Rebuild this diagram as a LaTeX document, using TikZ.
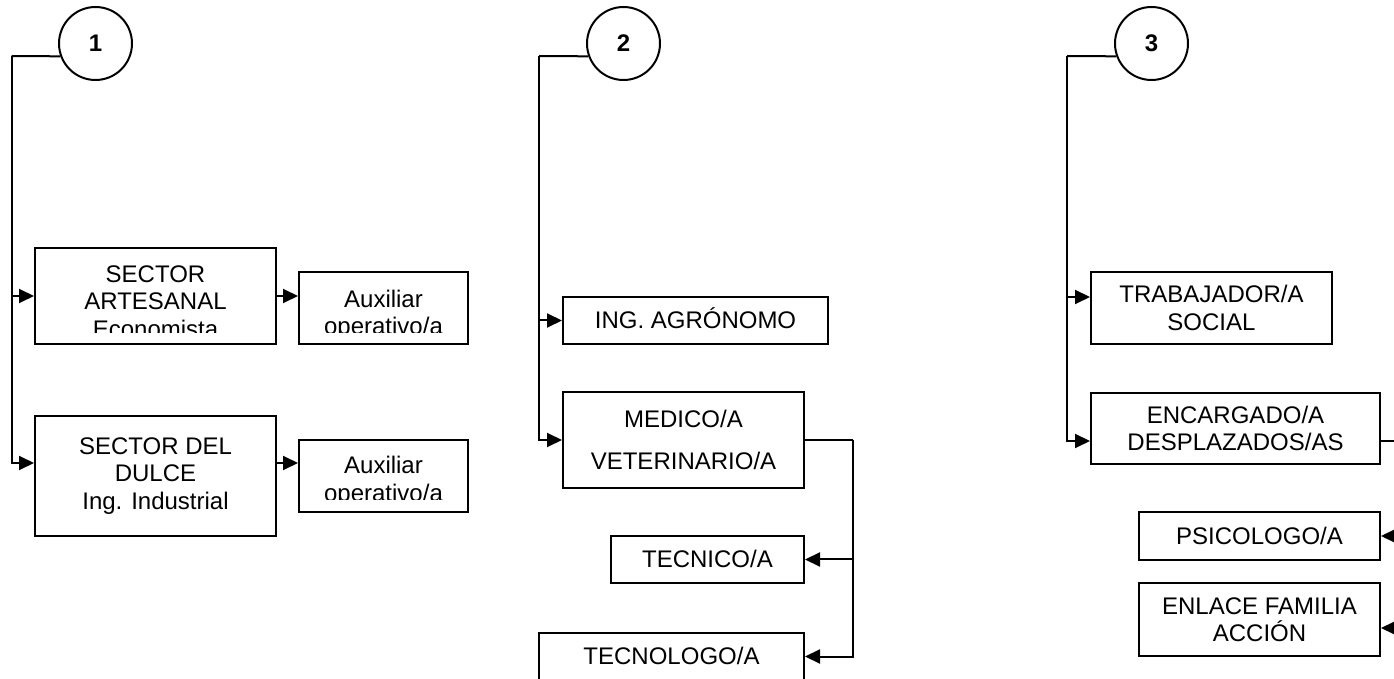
\documentclass[tikz,border=0pt]{standalone}
\usepackage{fontspec}
\setmainfont{Liberation Sans}
\usetikzlibrary{arrows.meta}

\tikzset{caja/.style={draw,line width=1pt,inner sep=0pt,align=center}}
\tikzset{numero/.style={draw,circle,line width=1pt,minimum size=36.5pt,inner sep=0pt,font=\fontsize{12}{14}\selectfont\bfseries}}
\tikzset{flecha/.style={-{Triangle[length=7.5pt,width=7pt]},line width=1pt}}
\tikzset{rama/.style={line width=1pt}}
\tikzset{unalinea/.style={text height=8.3pt,text depth=0pt}}
\tikzset{recorte/.style={anchor=north,align=center,inner sep=0pt}}

\begin{document}
\begin{tikzpicture}[x=0.5pt,y=-0.5pt,font=\fontsize{12}{13.75}\selectfont]
        % page frame
        \clip (0,0) rectangle (1394,679);

        % column 1
        \node[numero] (n1) at (95.5,43.5) {1};
        \node[caja,minimum width=120.5pt,minimum height=48pt] (art) at (155.5,296) {};
        \node[caja,minimum width=84.5pt,minimum height=36pt] (aux1) at (383.5,308) {};
        \node[caja,minimum width=120.5pt,minimum height=60pt] (dul) at (155.5,476) {SECTOR DEL\\DULCE\\Ing. Industrial};
        \node[caja,minimum width=84.5pt,minimum height=36pt] (aux2) at (383.5,476) {};
        % texts cut by their boxes
        \begin{scope}
            \clip (35,248) rectangle (276,333);
            \node[recorte] (tart) at (155.5,265) {SECTOR\\ARTESANAL\\Economista};
        \end{scope}
        \begin{scope}
            \clip (299,272) rectangle (468,333);
            \node[recorte] (taux1) at (383.5,289.5) {Auxiliar\\operativo/a};
        \end{scope}
        \begin{scope}
            \clip (299,440) rectangle (468,500);
            \node[recorte] (taux2) at (383.5,456) {Auxiliar\\operativo/a};
        \end{scope}

        \coordinate (k1) at (11.5,56);
        \coordinate (d1) at ([yshift=6.5pt]dul.west);
        \coordinate (d2) at ([yshift=6.5pt]dul.east);
        \draw[rama] (n1.200) -- (k1);
        \draw[flecha] (k1) |- (art.west);
        \draw[flecha] (k1) |- (d1);
        \draw[flecha] (art.east) -- (art.east -| aux1.west);
        \draw[flecha] (d2) -- (d2 -| aux2.west);

        % column 2
        \node[numero] (n2) at (623.5,43.5) {2};
        \node[caja,unalinea,minimum width=132.5pt,minimum height=23.5pt] (agro) at (695.5,320.5) {ING. AGRÓNOMO};
        \node[caja,minimum width=120.5pt,minimum height=48pt] (med) at (683.5,440) {MEDICO/A\\[7pt]VETERINARIO/A};
        \node[caja,unalinea,minimum width=96.5pt,minimum height=23.5pt] (tec) at (707.5,559.5) {TECNICO/A};
        \node[caja,unalinea,minimum width=132.5pt,minimum height=23.5pt] (tgo) at (671.5,656.5) {TECNOLOGO/A};

        \coordinate (k2) at (539,56);
        \draw[rama] (n2.200) -- (k2);
        \draw[flecha] (k2) |- (agro.west);
        \draw[flecha] (k2) |- (med.west);
        \draw[rama] (med.east) -- ++(48,0) coordinate (b2);
        \draw[flecha] (b2) |- (tec.east);
        \draw[flecha] (b2) |- (tgo.east);

        % column 3
        \node[numero] (n3) at (1151.5,43.5) {3};
        \node[caja,minimum width=120.5pt,minimum height=36pt] (trab) at (1211.5,308) {TRABAJADOR/A\\SOCIAL};
        \node[caja,minimum width=144.5pt,minimum height=35.5pt] (enc) at (1235.5,428.5) {ENCARGADO/A\\DESPLAZADOS/AS};
        \node[caja,unalinea,minimum width=120.5pt,minimum height=24pt] (psi) at (1259.5,536) {PSICOLOGO/A};
        \node[caja,minimum width=120.5pt,minimum height=36.5pt] (enl) at (1259.5,619.5) {ENLACE FAMILIA\\ACCIÓN};

        \coordinate (k3) at (1067,56);
        \coordinate (t3) at ([yshift=5.5pt]trab.west);
        \coordinate (e3) at ([yshift=-6.25pt]enc.west);
        \coordinate (e4) at ([yshift=-6.25pt]enc.east);
        \coordinate (l3) at ([yshift=-4.25pt]enl.east);
        \draw[rama] (n3.200) -- (k3);
        \draw[flecha] (k3) |- (t3);
        \draw[flecha] (k3) |- (e3);
        \draw[rama] (e4) -- ++(48,0) coordinate (b3);
        \draw[flecha] (b3) |- (psi.east);
        \draw[flecha] (b3) |- (l3);
\end{tikzpicture}
\end{document}
